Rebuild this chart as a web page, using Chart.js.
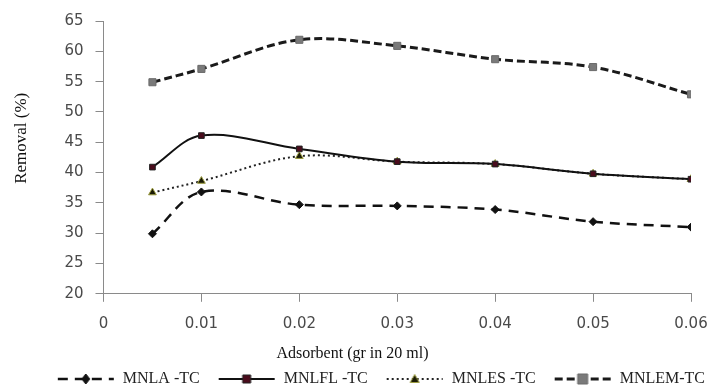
<!DOCTYPE html>
<html>
<head>
<meta charset="utf-8">
<script src="https://cdn.jsdelivr.net/npm/chart.js@4/dist/chart.umd.min.js"></script>
<style>
  html, body { margin: 0; padding: 0; background: #ffffff; }
  #wrap { width: 718px; height: 390px; }
</style>
</head>
<body>
<div id="wrap"><canvas id="c" width="718" height="390"></canvas></div>
<script>
// ---- data ----
const xValues = [0.005, 0.01, 0.02, 0.03, 0.04, 0.05, 0.06];
const seriesNames = ['MNLA -TC', 'MNLFL -TC', 'MNLES -TC', 'MNLEM-TC'];
const mnlA  = [29.9, 36.8, 34.7, 34.5, 33.9, 31.9, 31.0];
const mnlFL = [40.9, 46.1, 43.9, 41.8, 41.4, 39.8, 38.9];
const mnlES = [36.7, 38.6, 42.7, 41.8, 41.4, 39.8, 38.9];
const mnlEM = [54.9, 57.1, 61.9, 60.9, 58.7, 57.4, 52.9];
const xTickLabels = ['0', '0.01', '0.02', '0.03', '0.04', '0.05', '0.06'];
const yTickLabels = ['20', '25', '30', '35', '40', '45', '50', '55', '60', '65'];
const xTitle = 'Adsorbent (gr in 20 ml)';
const yTitle = 'Removal (%)';

const nb = n => '\u00A0'.repeat(n);
const toPoints = arr => arr.map((v, i) => ({ x: xValues[i], y: v }));

const styles = [
  { line: '#111111', width: 2.5, dash: [10, 7], marker: 'rectRot', mFill: '#111111', mBorder: '#111111', r: 4 },
  { line: '#111111', width: 2, dash: [], marker: 'rect', mFill: '#4a0c1c', mBorder: '#222222', r: 4 },
  { line: '#222222', width: 2, dash: [2, 3], marker: 'triangle', mFill: '#1a1a05', mBorder: '#9c9c40', r: 4.5 },
  { line: '#1a1a1a', width: 3, dash: [8, 4], marker: 'rect', mFill: '#7a7a7a', mBorder: '#6a6a6a', r: 5 }
];
const seriesData = [mnlA, mnlFL, mnlES, mnlEM];

function legendSample(st) {
  const c = document.createElement('canvas');
  c.width = 58; c.height = 14;
  const g = c.getContext('2d');
  g.strokeStyle = st.line;
  g.lineWidth = st.width;
  g.setLineDash(st.dash.length ? st.dash : []);
  g.beginPath(); g.moveTo(1, 7); g.lineTo(57, 7); g.stroke();
  g.setLineDash([]);
  g.fillStyle = st.mFill; g.strokeStyle = st.mBorder; g.lineWidth = 1;
  const cx = 29, cy = 7, r = st.r;
  g.beginPath();
  if (st.marker === 'rectRot') {
    g.moveTo(cx, cy - r - 1); g.lineTo(cx + r, cy); g.lineTo(cx, cy + r + 1); g.lineTo(cx - r, cy); g.closePath();
  } else if (st.marker === 'triangle') {
    g.moveTo(cx, cy - r); g.lineTo(cx + r, cy + r - 1); g.lineTo(cx - r, cy + r - 1); g.closePath();
  } else {
    g.rect(cx - r, cy - r, 2 * r, 2 * r);
  }
  g.fill(); g.stroke();
  return c;
}
const samples = styles.map(legendSample);

const datasets = seriesData.map((arr, i) => {
  const st = styles[i];
  return {
    label: seriesNames[i],
    data: toPoints(arr),
    borderColor: st.line,
    borderWidth: st.width,
    borderDash: st.dash,
    tension: 0.35,
    pointStyle: st.marker,
    pointRadius: st.r,
    pointHoverRadius: st.r,
    pointBackgroundColor: st.mFill,
    pointBorderColor: st.mBorder,
    pointBorderWidth: 1,
    fill: false
  };
});

// shift the legend row to the right, as in the original (which runs to the edge)
const legendShift = {
  id: 'legendShift',
  afterLayout(chart) {
    if (chart.legend) { chart.legend.left += 13; chart.legend.right += 13; }
  }
};

new Chart(document.getElementById('c'), {
  type: 'line',
  data: { datasets },
  plugins: [legendShift],
  options: {
    responsive: false,
    animation: false,
    layout: { padding: { top: 18, right: 8, left: 11, bottom: -7 } },
    plugins: {
      tooltip: { enabled: false },
      title: {
        display: true,
        text: xTitle + nb(4),
        position: 'bottom',
        weight: 500,
        color: '#111111',
        font: { family: 'Liberation Serif', size: 16, weight: 'normal' },
        padding: { top: -2, bottom: -10 }
      },
      legend: {
        position: 'bottom',
        align: 'end',
        labels: {
          usePointStyle: true,
          pointStyleWidth: 58,
          boxHeight: 14,
          padding: 18,
          color: '#222222',
          font: { family: 'Liberation Serif', size: 16 },
          generateLabels: chart => seriesNames.map((n, i) => ({
            text: n,
            pointStyle: samples[i],
            fillStyle: 'transparent',
            strokeStyle: 'transparent',
            lineWidth: 0,
            hidden: false,
            datasetIndex: i,
            fontColor: '#222222'
          }))
        }
      }
    },
    scales: {
      x: {
        type: 'linear',
        min: 0, max: 0.06,
        afterBuildTicks: axis => { axis.ticks = xTickLabels.map(t => ({ value: parseFloat(t) })); },
        afterFit: axis => { axis.paddingRight = 27; },
        ticks: {
          callback: (v, i) => xTickLabels[i],
          color: '#4a4a4a',
          font: { family: 'DejaVu Sans', size: 15 },
          padding: 13,
          maxRotation: 0
        },
        grid: { display: true, drawOnChartArea: false, drawTicks: true, tickLength: 8, color: '#8a8a8a' },
        border: { display: true, color: '#8a8a8a', width: 1 },
        title: { display: false }
      },
      y: {
        type: 'linear',
        min: 20, max: 65,
        afterBuildTicks: axis => { axis.ticks = yTickLabels.map(t => ({ value: parseFloat(t) })); },
        ticks: {
          callback: (v, i) => yTickLabels[i],
          color: '#4a4a4a',
          font: { family: 'DejaVu Sans', size: 15 },
          padding: 12
        },
        grid: { display: true, drawOnChartArea: false, drawTicks: true, tickLength: 8, color: '#8a8a8a' },
        border: { display: true, color: '#8a8a8a', width: 1 },
        title: {
          display: true,
          text: nb(9) + yTitle,
          color: '#111111',
          font: { family: 'Liberation Serif', size: 17 },
          padding: { top: 0, bottom: 21 }
        }
      }
    }
  }
});
</script>
</body>
</html>
